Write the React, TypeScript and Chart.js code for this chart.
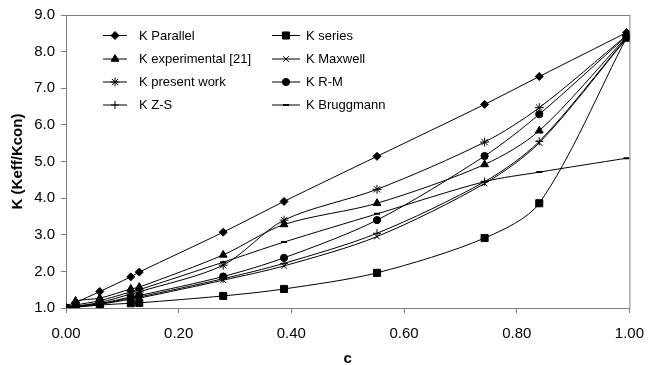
import React, { useEffect, useRef } from 'react';
import { Chart, registerables } from 'chart.js';
import { drawPoint } from 'chart.js/helpers';

Chart.register(...registerables);

// volume fraction c
const cValues = [0, 0.017, 0.06, 0.115, 0.13, 0.279, 0.387, 0.552, 0.743, 0.84, 0.995];
// K (Keff/Kcon) per model
const kParallel = [1.0, 1.14, 1.45, 1.85, 1.98, 3.07, 3.91, 5.14, 6.56, 7.32, 8.52];
const kSeries = [1.0, 1.02, 1.08, 1.13, 1.14, 1.33, 1.52, 1.96, 2.91, 3.86, 8.38];
const kExperimental = [1.0, 1.19, 1.27, 1.52, 1.57, 2.45, 3.28, 3.86, 4.92, 5.84, 8.4];
const kMaxwell = [1.0, 1.03, 1.1, 1.24, 1.27, 1.76, 2.15, 2.95, 4.4, 5.51, 8.36];
const kPresent = [1.0, 1.05, 1.15, 1.38, 1.44, 2.17, 3.4, 4.24, 5.53, 6.47, 8.44];
const kRM = [1.0, 1.04, 1.12, 1.3, 1.34, 1.86, 2.37, 3.4, 5.15, 6.29, 8.42];
const kZS = [1.0, 1.03, 1.11, 1.27, 1.3, 1.8, 2.22, 3.04, 4.45, 5.55, 8.38];
const kBruggmann = [1.0, 1.08, 1.2, 1.44, 1.5, 2.25, 2.8, 3.57, 4.45, 4.71, 5.09];

const seriesLabels = [
  'K Parallel',
  'K series',
  'K experimental [21]',
  'K Maxwell',
  'K present work',
  'K R-M',
  'K Z-S',
  'K Bruggmann',
];
const seriesValues = [kParallel, kSeries, kExperimental, kMaxwell, kPresent, kRM, kZS, kBruggmann];
const seriesStyles = ['rectRot', 'rect', 'triangle', 'crossRot', 'star', 'circle', 'cross', 'line'];
const seriesRadii = [4, 5, 4.5, 4, 4.5, 3.6, 4, 3];

const yTicks = [1, 2, 3, 4, 5, 6, 7, 8, 9];
const xTicks = [0, 0.2, 0.4, 0.6, 0.8, 1.0];

const FONT = '"Liberation Sans", Arial, sans-serif';
const GREY = '#808080';

const framePlugin = {
  id: 'frame',
  beforeDatasetsDraw(chart: any) {
    const { ctx, chartArea } = chart;
    ctx.save();
    ctx.strokeStyle = GREY;
    ctx.lineWidth = 1;
    ctx.strokeRect(chartArea.left + 0.5, chartArea.top + 0.5, chartArea.right - chartArea.left, chartArea.bottom - chartArea.top);
    ctx.restore();
  },
};

const legendPlugin = {
  id: 'innerLegend',
  afterDraw(chart: any) {
    const { ctx } = chart;
    const cols = [
      { x0: 103, x1: 127, text: 139 },
      { x0: 272, x1: 300, text: 306 },
    ];
    const rows = [35, 58.5, 81.5, 104.5];
    ctx.save();
    chart.data.datasets.forEach((ds: any, i: number) => {
      const col = cols[i % 2];
      const y = rows[Math.floor(i / 2)];
      ctx.strokeStyle = '#000';
      ctx.lineWidth = 1;
      ctx.beginPath();
      ctx.moveTo(col.x0, y + 0.5);
      ctx.lineTo(col.x1, y + 0.5);
      ctx.stroke();
      ctx.fillStyle = '#000';
      ctx.strokeStyle = '#000';
      ctx.lineWidth = ds.pointBorderWidth;
      drawPoint(ctx, { pointStyle: ds.pointStyle, radius: ds.pointRadius, rotation: 0, borderWidth: ds.pointBorderWidth }, (col.x0 + col.x1) / 2, y + 0.5);
      ctx.fillStyle = '#000';
      ctx.font = '13px ' + FONT;
      ctx.textBaseline = 'middle';
      ctx.textAlign = 'left';
      ctx.fillText(ds.label, col.text, y + 1);
    });
    ctx.restore();
  },
};

export default function App() {
  const ref = useRef<HTMLCanvasElement | null>(null);
  useEffect(() => {
    document.body.style.margin = '0';
    const canvas = ref.current;
    if (!canvas) return;
    const datasets = seriesLabels.map((label, i) => ({
      label,
      data: cValues.map((c, j) => ({ x: c, y: seriesValues[i][j] })),
      borderColor: '#000',
      backgroundColor: '#000',
      borderWidth: 1,
      pointStyle: seriesStyles[i],
      pointRadius: seriesRadii[i],
      pointBorderWidth: seriesStyles[i] === 'line' ? 2 : 1,
      pointBackgroundColor: '#000',
      pointBorderColor: '#000',
      tension: 0.3,
      fill: false,
    }));
    const chart = new Chart(canvas, {
      type: 'line',
      data: { datasets },
      plugins: [framePlugin, legendPlugin],
      options: {
        responsive: false,
        animation: false,
        devicePixelRatio: 1,
        layout: { padding: { top: 13, right: 15, left: 0, bottom: 0 } },
        plugins: { legend: { display: false }, tooltip: { enabled: false } },
        scales: {
          x: {
            type: 'linear',
            min: 0,
            max: 1,
            afterBuildTicks: (scale: any) => {
              scale.ticks = xTicks.map((v) => ({ value: v }));
            },
            afterFit: (scale: any) => {
              scale.height = 57;
            },
            ticks: {
              callback: (v: any) => Number(v).toFixed(2),
              font: { family: FONT, size: 15 },
              color: '#000',
              padding: 12,
              maxRotation: 0,
            },
            grid: { drawOnChartArea: false, drawTicks: true, tickLength: 5, color: GREY },
            border: { display: true, color: GREY },
            title: {
              display: true,
              text: 'c',
              font: { family: FONT, size: 15, weight: 'bold' },
              color: '#000',
              padding: { top: 0, bottom: -3 },
            },
          },
          y: {
            type: 'linear',
            min: 1,
            max: 9,
            afterBuildTicks: (scale: any) => {
              scale.ticks = yTicks.map((v) => ({ value: v }));
            },
            afterFit: (scale: any) => {
              scale.width = 66;
            },
            ticks: {
              callback: (v: any) => Number(v).toFixed(1),
              font: { family: FONT, size: 15 },
              color: '#000',
              padding: 6,
            },
            grid: { drawOnChartArea: false, drawTicks: true, tickLength: 5, color: GREY },
            border: { display: true, color: GREY },
            title: {
              display: true,
              text: 'K (Keff/Kcon)',
              font: { family: FONT, size: 15, weight: 'bold' },
              color: '#000',
              padding: { top: 9, bottom: 0 },
            },
          },
        },
      } as any,
    });
    return () => chart.destroy();
  }, []);
  return (
    <div style={{ position: 'absolute', left: 0, top: 0, width: 656, height: 365 }}>
      <canvas ref={ref} width={656} height={365} />
    </div>
  );
}
